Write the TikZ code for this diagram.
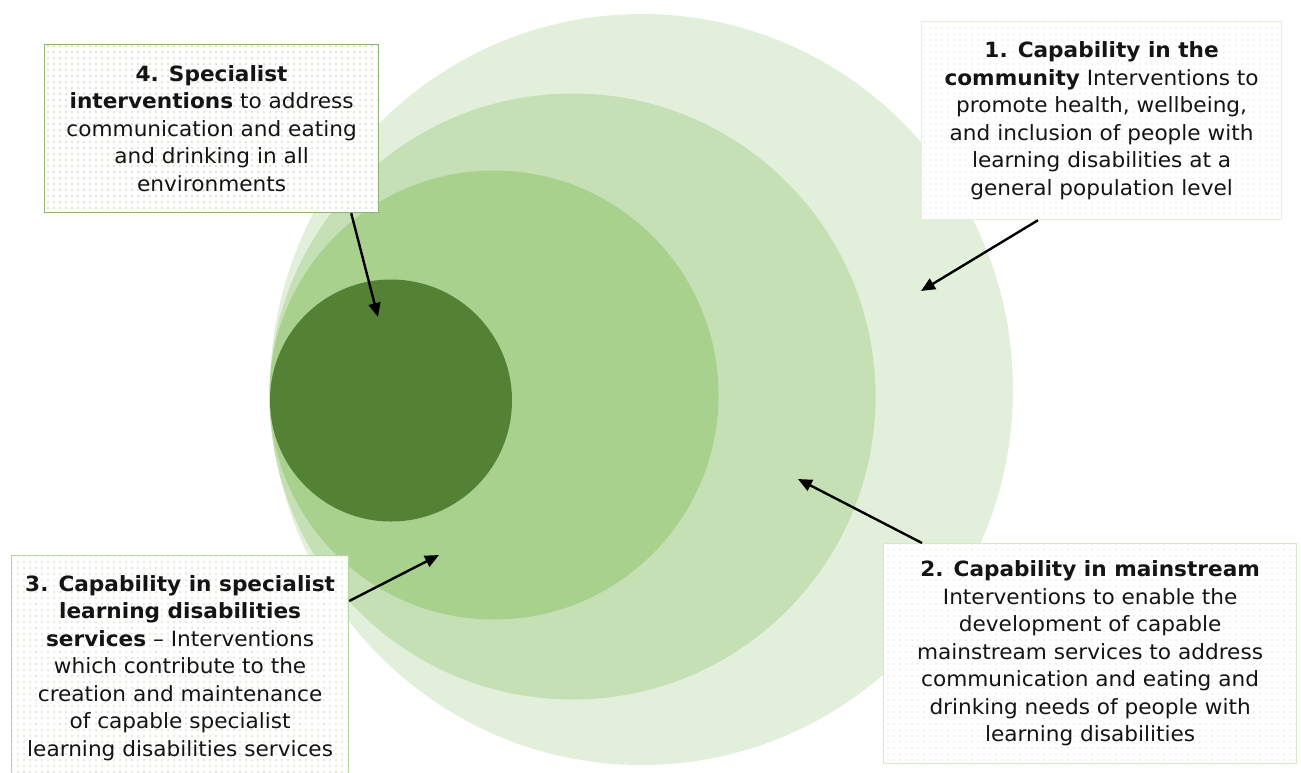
\documentclass[tikz,border=0pt]{standalone}
\usepackage{fontspec}
\setmainfont{DejaVu Sans}[FakeStretch=1.03]
\usetikzlibrary{arrows.meta, patterns.meta}

\definecolor{ringA}{HTML}{E2EFDA}
\definecolor{ringB}{HTML}{C5E0B4}
\definecolor{ringC}{HTML}{A9D18E}
\definecolor{ringD}{HTML}{548235}

\begin{document}
\begin{tikzpicture}[
    x=0.5pt, y=-0.5pt,
    note/.style={draw, line width=0.6pt, align=center, anchor=north west, inner sep=0pt,
      font=\fontsize{10.5pt}{13.75pt}\selectfont, text=black!92,
      preaction={fill=white}, pattern={Dots[distance=3pt, radius=0.35pt]}},
    arr/.style={-{Triangle[length=7pt, width=6pt]}, line width=1.2pt},
  ]
    \useasboundingbox (0,0) rectangle (1301,772);

    % Nested circles, all touching on the left
    \fill[ringA] (641.5,389.5) ellipse [x radius=371.5, y radius=375.5];
    \fill[ringB] (572.5,396.5) circle [radius=303];
    \fill[ringC] (494,395) circle [radius=224.5];
    \fill[ringD] (391,400.5) circle [radius=121];

    % Arrow targets
    \coordinate (t1) at (921,291);
    \coordinate (t2) at (798,479);
    \coordinate (t3) at (439,555);
    \coordinate (t4) at (378,317);

    % Text boxes
    \node[note, draw={rgb,255:red,143;green,180;blue,115}, pattern color={rgb,255:red,110;green,155;blue,80},
      minimum width=167pt, minimum height=84pt] (spec) at (44,44)
      {\textbf{4. Specialist}\\
       \textbf{interventions} to address\\
       communication and eating\\
       and drinking in all\\
       environments};

    \node[note, draw=ringA, pattern color=black!18,
      minimum width=180pt, minimum height=99pt] (comm) at (921,21)
      {\textbf{1. Capability in the}\\
       \textbf{community} Interventions to\\
       promote health, wellbeing,\\
       and inclusion of people with\\
       learning disabilities at a\\
       general population level};

    \node[note, draw={rgb,255:red,181;green,217;blue,156}, pattern color={rgb,255:red,140;green,180;blue,110},
      minimum width=168.5pt, minimum height=112.5pt] (ldserv) at (11,555)
      {\textbf{3. Capability in specialist}\\
       \textbf{learning disabilities}\\
       \textbf{services} -- Interventions\\
       which contribute to the\\
       creation and maintenance\\
       of capable specialist\\
       learning disabilities services};

    \node[note, draw={rgb,255:red,214;green,233;blue,200}, pattern color=black!22,
      minimum width=206.5pt, minimum height=110pt] (main) at (883,543)
      {\textbf{2. Capability in mainstream}\\
       Interventions to enable the\\
       development of capable\\
       mainstream services to address\\
       communication and eating and\\
       drinking needs of people with\\
       learning disabilities};

    % Arrows
    \draw[arr] ([xshift=-14pt]spec.south east) -- (t4);
    \draw[arr] ([xshift=58.5pt]comm.south west) -- (t1);
    \draw[arr] ([yshift=-23pt]ldserv.north east) -- (t3);
    \draw[arr] ([xshift=19.5pt]main.north west) -- (t2);
\end{tikzpicture}
\end{document}
